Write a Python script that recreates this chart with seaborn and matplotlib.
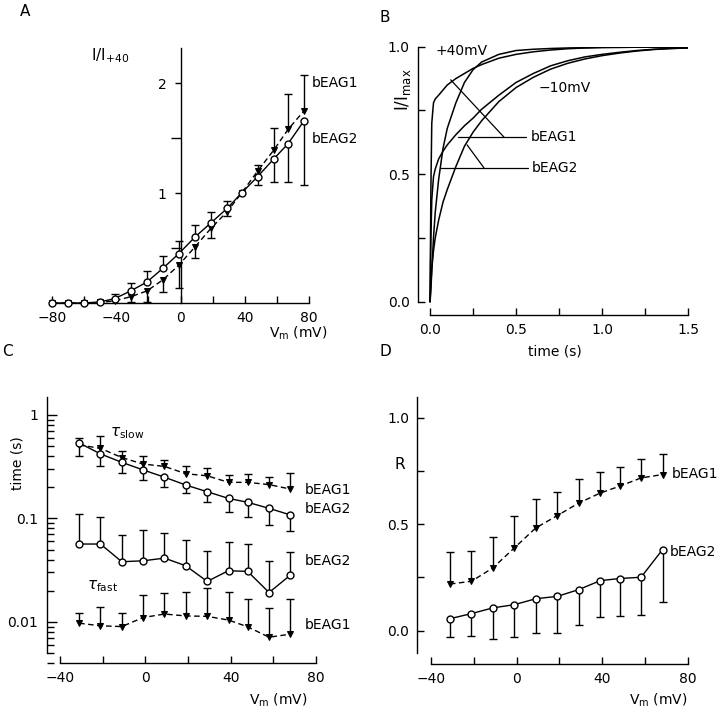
import numpy as np
import matplotlib
matplotlib.use("Agg")
import matplotlib.pyplot as plt
import matplotlib.ticker as mticker
import seaborn as sns

sns.set_theme(style="ticks")
plt.rcParams['font.family'] = ['DejaVu Sans']
plt.rcParams['mathtext.fontset'] = 'dejavusans'
plt.rcParams['text.color'] = 'black'
plt.rcParams['axes.labelcolor'] = 'black'
plt.rcParams['xtick.color'] = 'black'
plt.rcParams['ytick.color'] = 'black'
plt.rcParams['xtick.labelcolor'] = 'black'
plt.rcParams['ytick.labelcolor'] = 'black'

nan = np.nan

# ---- panel A: I/I+40 vs Vm ----
v_a = [-80, -70, -60, -50, -41, -31, -21, -11, -1, 9, 19, 29, 38, 48, 58, 67, 77]
a_beag2 = [0, 0, 0, 0.01, 0.04, 0.11, 0.19, 0.315, 0.45, 0.60, 0.73, 0.86, 1.0, 1.15, 1.31, 1.45, 1.66]
a_beag2_err = [nan, nan, nan, nan, 0.08, 0.18, 0.29, 0.43, 0.56, 0.71, 0.83, 0.93, nan, 1.07, 1.10, 1.10, 1.07]
a_beag1 = [0, 0, 0, 0.005, 0.02, 0.057, 0.109, 0.21, 0.345, 0.51, 0.68, 0.83, 1.0, 1.20, 1.39, 1.58, 1.75]
a_beag1_err = [nan, nan, nan, nan, nan, 0.01, 0.01, 0.097, 0.14, 0.41, 0.59, 0.79, nan, 1.26, 1.59, 1.90, 2.07]

# ---- panel B: normalized current traces ----
t_b = [0, 0.005, 0.01, 0.02, 0.03, 0.05, 0.075, 0.1, 0.15, 0.2, 0.25, 0.3, 0.4, 0.5,
       0.6, 0.7, 0.8, 0.9, 1.0, 1.1, 1.2, 1.3, 1.4, 1.5]
b_p40_beag1 = [0, 0.45, 0.70, 0.78, 0.795, 0.81, 0.83, 0.85, 0.875, 0.895, 0.915, 0.93, 0.955, 0.97,
               0.98, 0.987, 0.992, 0.995, 0.997, 0.998, 0.998, 0.998, 0.998, 0.998]
b_p40_beag2 = [0, 0.05, 0.12, 0.25, 0.35, 0.48, 0.60, 0.68, 0.78, 0.86, 0.91, 0.94, 0.97, 0.985,
               0.99, 0.993, 0.995, 0.996, 0.997, 0.997, 0.998, 0.998, 0.998, 0.998]
b_m10_beag1 = [0, 0.25, 0.40, 0.49, 0.52, 0.56, 0.59, 0.615, 0.655, 0.69, 0.72, 0.755, 0.81, 0.86,
               0.895, 0.925, 0.945, 0.96, 0.97, 0.978, 0.985, 0.99, 0.993, 0.995]
b_m10_beag2 = [0, 0.07, 0.13, 0.20, 0.25, 0.32, 0.39, 0.44, 0.53, 0.61, 0.665, 0.71, 0.785, 0.84,
               0.88, 0.912, 0.935, 0.952, 0.965, 0.975, 0.983, 0.989, 0.993, 0.995]

# ---- panel C / D voltages ----
v_cd = [-31, -21, -11, -1, 9, 19, 29, 39, 48, 58, 68]

# panel C: time constants (s)
slow_beag2 = [0.536, 0.42, 0.348, 0.294, 0.25, 0.21, 0.181, 0.156, 0.143, 0.125, 0.108]
slow_beag2_err = [0.404, 0.32, 0.275, 0.237, 0.203, 0.175, 0.145, 0.114, 0.104, 0.086, 0.076]
slow_beag1 = [0.513, 0.475, 0.387, 0.335, 0.318, 0.27, 0.258, 0.223, 0.223, 0.212, 0.192]
slow_beag1_err = [0.598, 0.622, 0.452, 0.398, 0.37, 0.318, 0.309, 0.265, 0.268, 0.253, 0.275]
fast_beag2 = [0.0565, 0.0565, 0.0381, 0.0389, 0.0413, 0.0348, 0.0246, 0.0312, 0.0307, 0.0192, 0.0283]
fast_beag2_err = [0.110, 0.102, 0.069, 0.077, 0.073, 0.062, 0.048, 0.0586, 0.056, 0.0389, 0.0469]
fast_beag1 = [0.0097, 0.00915, 0.0090, 0.0110, 0.0119, 0.0114, 0.0113, 0.0104, 0.00895, 0.0071, 0.0076]
fast_beag1_err = [0.0123, 0.014, 0.0123, 0.0181, 0.0192, 0.0195, 0.021, 0.0195, 0.0166, 0.0135, 0.0168]

# panel D: R
r_beag1 = [0.219, 0.232, 0.295, 0.389, 0.483, 0.541, 0.60, 0.647, 0.679, 0.718, 0.734]
r_beag1_err = [0.37, 0.376, 0.44, 0.538, 0.619, 0.652, 0.715, 0.745, 0.77, 0.809, 0.831]
r_beag2 = [0.056, 0.08, 0.107, 0.122, 0.15, 0.161, 0.193, 0.235, 0.245, 0.251, 0.381]
r_beag2_err = [-0.03, -0.024, -0.039, -0.031, -0.011, -0.011, 0.028, 0.063, 0.07, 0.072, 0.133]

FS = 10


def err_bars(ax, x, y, end):
    x = np.asarray(x, float)
    y = np.asarray(y, float)
    end = np.asarray(end, float)
    ok = ~np.isnan(end)
    ax.vlines(x[ok], y[ok], end[ok], color='black', lw=1.0, zorder=2, clip_on=False)
    ax.plot(x[ok], end[ok], ls='none', marker='_', ms=6, mew=1.0, color='black',
            zorder=2, clip_on=False)


def series(ax, x, y, kind):
    if kind == 'beag1':
        sns.lineplot(x=x, y=y, ax=ax, color='black', lw=1.0, linestyle=(0, (4, 2.5)),
                     marker='v', markersize=5, markerfacecolor='black',
                     markeredgecolor='black', zorder=3, clip_on=False)
    else:
        sns.lineplot(x=x, y=y, ax=ax, color='black', lw=1.0, marker='o', markersize=5,
                     markerfacecolor='white', markeredgecolor='black',
                     markeredgewidth=1.0, zorder=4, clip_on=False)


def style_ticks(ax):
    ax.tick_params(axis='both', which='both', direction='in', labelsize=FS,
                   color='black', labelcolor='black', width=1.0, pad=6)
    ax.tick_params(axis='both', which='major', length=5)
    ax.tick_params(axis='both', which='minor', length=5)
    for s in ['left', 'bottom']:
        ax.spines[s].set_linewidth(1.0)
        ax.spines[s].set_color('black')
    for s in ['top', 'right']:
        ax.spines[s].set_visible(False)
    ax.set_facecolor('white')


fig = plt.figure(figsize=(7.2, 7.16), dpi=100)
fig.patch.set_facecolor('white')

# ================= A =================
axA = fig.add_axes([52 / 720, 1 - 303 / 716, 257 / 720, 255 / 716])
style_ticks(axA)
axA.spines['left'].set_position(('data', 0))
axA.spines['bottom'].set_position(('data', 0))
err_bars(axA, v_a, a_beag2, a_beag2_err)
err_bars(axA, v_a, a_beag1, a_beag1_err)
series(axA, v_a, a_beag1, 'beag1')
series(axA, v_a, a_beag2, 'beag2')
axA.set_xlim(-80, 80)
axA.set_ylim(0, 2.32)
axA.set_xticks([-80, -40, 0, 40, 80])
axA.set_xticks([-60, -20, 20, 60], minor=True)
axA.set_xticklabels(['\u221280', '\u221240', '0', '40', '80'])
axA.set_yticks([1, 2])
axA.set_yticks([0.5, 1.5], minor=True)
axA.set_yticklabels(['1', '2'])
axA.tick_params(axis='y', which='both', direction='out', length=4)
axA.tick_params(axis='y', which='minor', length=7)
axA.set_xlabel('')
axA.set_ylabel('')
axA.text(-56, 2.25, r'$\mathregular{I/I_{+40}}$', fontsize=FS + 1, ha='left', va='center')
axA.text(81.5, 2.0, 'bEAG1', fontsize=FS, ha='left', va='center')
axA.text(81.5, 1.49, 'bEAG2', fontsize=FS, ha='left', va='center')
axA.text(0.96, -0.118, r'$\mathregular{V_m}$ (mV)', fontsize=FS, ha='center', va='center',
         transform=axA.transAxes)

# ================= B =================
axB = fig.add_axes([418 / 720, 1 - 315 / 716, 270.3 / 720, 268.3 / 716])
style_ticks(axB)
for trace in [b_p40_beag1, b_p40_beag2, b_m10_beag1, b_m10_beag2]:
    sns.lineplot(x=t_b, y=trace, ax=axB, color='black', lw=1.1, zorder=3)
axB.set_xlim(-0.07, 1.5)
axB.set_ylim(-0.052, 1.0)
axB.spines['bottom'].set_bounds(0, 1.5)
axB.spines['left'].set_bounds(0, 1.0)
axB.set_xticks([0, 0.5, 1.0, 1.5])
axB.set_xticks([0.25, 0.75, 1.25], minor=True)
axB.set_xticklabels(['0.0', '0.5', '1.0', '1.5'])
axB.set_yticks([0, 0.5, 1.0])
axB.set_yticks([0.25, 0.75], minor=True)
axB.set_yticklabels(['0.0', '0.5', '1.0'])
axB.set_xlabel('')
axB.set_ylabel('')
axB.text(0.03, 0.985, '+40mV', fontsize=FS, ha='left', va='center')
axB.text(0.63, 0.837, '\u221210mV', fontsize=FS, ha='left', va='center')
axB.text(0.585, 0.645, 'bEAG1', fontsize=FS, ha='left', va='center')
axB.text(0.59, 0.525, 'bEAG2', fontsize=FS, ha='left', va='center')
lk = dict(color='black', lw=0.9, zorder=2)
axB.plot([0.165, 0.56], [0.645, 0.645], **lk)
axB.plot([0.43, 0.12], [0.645, 0.87], **lk)
axB.plot([0.058, 0.57], [0.525, 0.525], **lk)
axB.plot([0.313, 0.215], [0.525, 0.615], **lk)
axB.text(-0.155, 0.83, r'$\mathregular{I/I_{max}}$', fontsize=FS + 2, rotation=90,
         ha='center', va='center', transform=axB.transData)
axB.text(0.507, -0.137, 'time (s)', fontsize=FS, ha='center', va='center',
         transform=axB.transAxes)

# ================= C =================
axC = fig.add_axes([46.7 / 720, 1 - 663 / 716, 269.3 / 720, 266.3 / 716])
style_ticks(axC)
axC.set_yscale('log')
err_bars(axC, v_cd, slow_beag2, slow_beag2_err)
err_bars(axC, v_cd, slow_beag1, slow_beag1_err)
err_bars(axC, v_cd, fast_beag2, fast_beag2_err)
err_bars(axC, v_cd, fast_beag1, fast_beag1_err)
series(axC, v_cd, slow_beag1, 'beag1')
series(axC, v_cd, fast_beag1, 'beag1')
series(axC, v_cd, slow_beag2, 'beag2')
series(axC, v_cd, fast_beag2, 'beag2')
axC.set_xlim(-46.2, 80)
axC.set_ylim(0.004, 1.5)
axC.spines['bottom'].set_bounds(-40, 80)
axC.spines['left'].set_bounds(0.005, 1.5)
axC.set_xticks([-40, 0, 40, 80])
axC.set_xticks([-20, 20, 60], minor=True)
axC.set_xticklabels(['\u221240', '0', '40', '80'])
axC.yaxis.set_major_locator(mticker.FixedLocator([0.01, 0.1, 1]))
axC.yaxis.set_major_formatter(mticker.FixedFormatter(['0.01', '0.1', '1']))
axC.yaxis.set_minor_locator(mticker.LogLocator(base=10, subs=np.arange(2, 10), numticks=20))
axC.yaxis.set_minor_formatter(mticker.NullFormatter())
axC.tick_params(axis='y', which='major', length=7)
axC.tick_params(axis='y', which='minor', length=5)
axC.set_xlabel('')
axC.set_ylabel('')
axC.text(-16.5, 0.67, r'$\tau_{\mathregular{slow}}$', fontsize=FS + 1, ha='left', va='center')
axC.text(-27.3, 0.0222, r'$\tau_{\mathregular{fast}}$', fontsize=FS + 1, ha='left', va='center')
axC.text(74.9, 0.19, 'bEAG1', fontsize=FS, ha='left', va='center')
axC.text(74.9, 0.122, 'bEAG2', fontsize=FS, ha='left', va='center')
axC.text(74.9, 0.0389, 'bEAG2', fontsize=FS, ha='left', va='center')
axC.text(74.9, 0.0093, 'bEAG1', fontsize=FS, ha='left', va='center')
axC.text(-0.11, 0.751, 'time (s)', fontsize=FS, rotation=90, ha='center', va='center',
         transform=axC.transAxes)
axC.text(0.859, -0.139, r'$\mathregular{V_m}$ (mV)', fontsize=FS, ha='center', va='center',
         transform=axC.transAxes)

# ================= D =================
axD = fig.add_axes([417.3 / 720, 1 - 664 / 716, 271 / 720, 267.3 / 716])
style_ticks(axD)
err_bars(axD, v_cd, r_beag1, r_beag1_err)
err_bars(axD, v_cd, r_beag2, r_beag2_err)
series(axD, v_cd, r_beag1, 'beag1')
series(axD, v_cd, r_beag2, 'beag2')
axD.set_xlim(-46.2, 80)
axD.set_ylim(-0.157, 1.1)
axD.spines['bottom'].set_bounds(-40, 80)
axD.spines['left'].set_bounds(-0.105, 1.1)
axD.set_xticks([-40, 0, 40, 80])
axD.set_xticks([-20, 20, 60], minor=True)
axD.set_xticklabels(['\u221240', '0', '40', '80'])
axD.set_yticks([0, 0.5, 1.0])
axD.set_yticks([0.25, 0.75], minor=True)
axD.set_yticklabels(['0.0', '0.5', '1.0'])
axD.set_xlabel('')
axD.set_ylabel('')
axD.text(-0.064, 0.748, 'R', fontsize=FS + 1, ha='center', va='center', transform=axD.transAxes)
axD.text(72.3, 0.738, 'bEAG1', fontsize=FS, ha='left', va='center')
axD.text(71.4, 0.368, 'bEAG2', fontsize=FS, ha='left', va='center')
axD.text(0.889, -0.135, r'$\mathregular{V_m}$ (mV)', fontsize=FS, ha='center', va='center',
         transform=axD.transAxes)

# panel letters
for lab, px, py in [('A', 25, 12), ('B', 385, 17), ('C', 7, 352), ('D', 385, 352)]:
    fig.text(px / 720, 1 - py / 716, lab, fontsize=FS + 1, ha='center', va='center')

fig.savefig('out.png', dpi=100, facecolor='white')
